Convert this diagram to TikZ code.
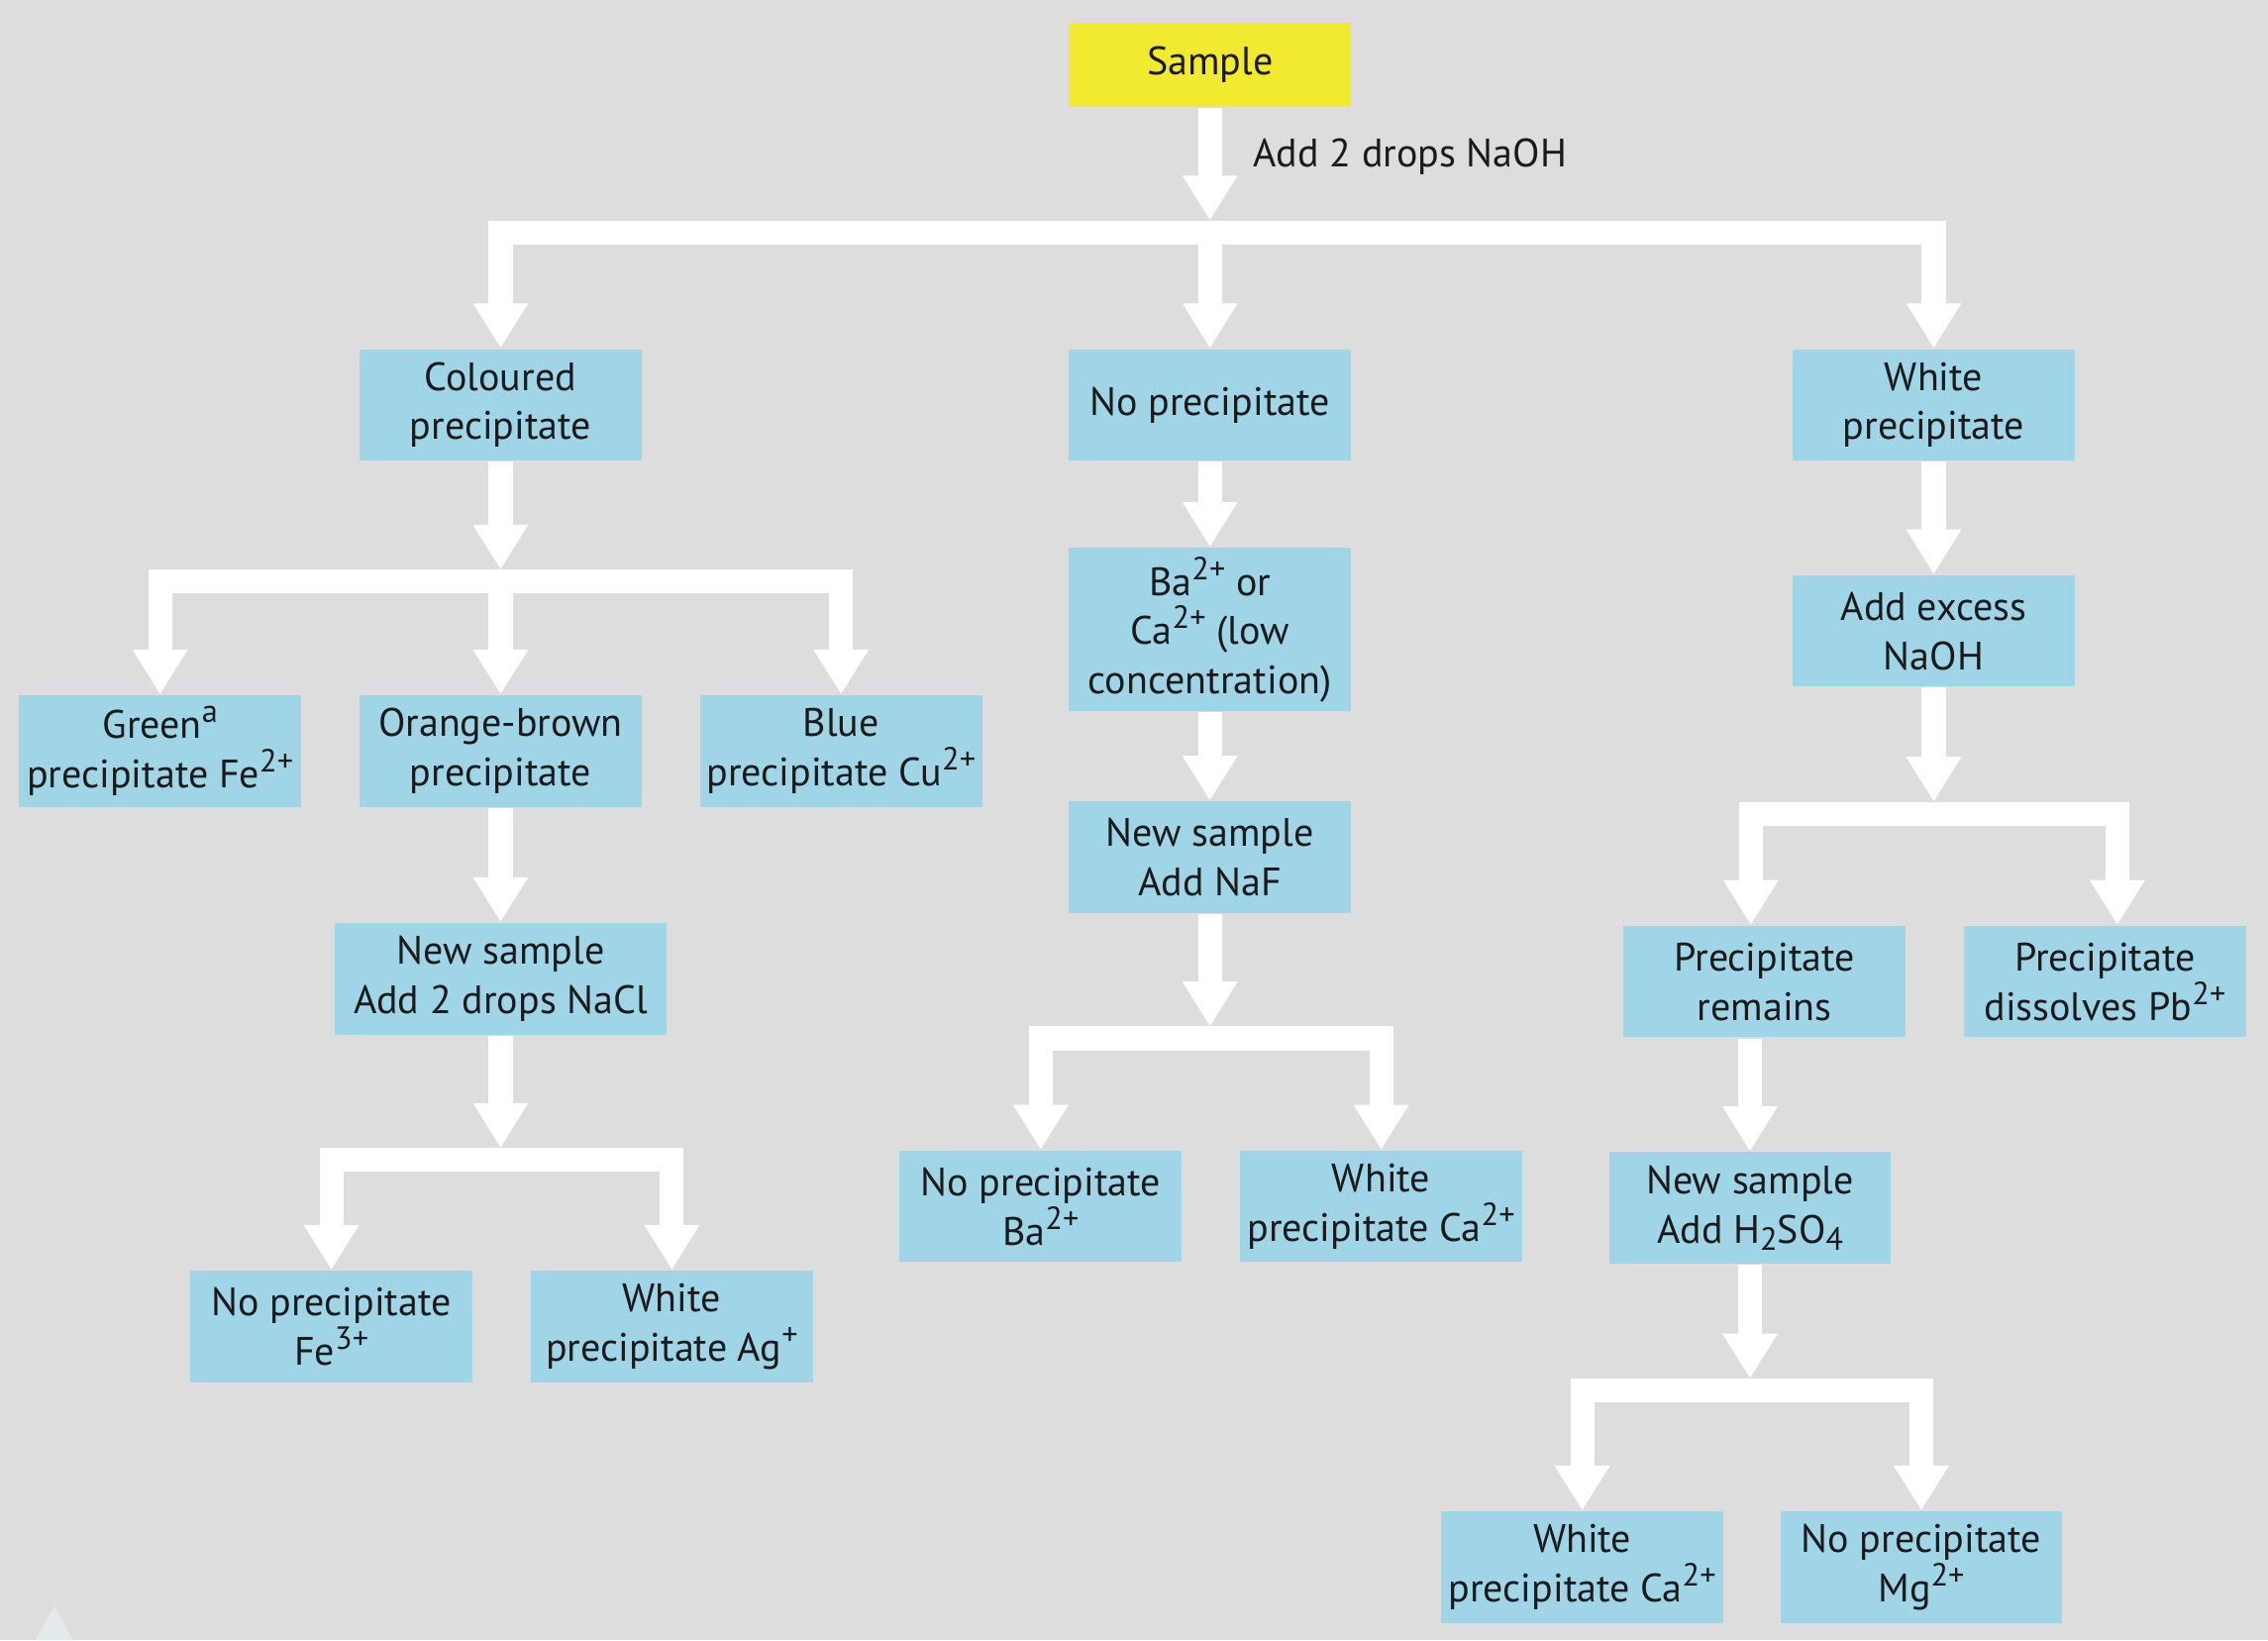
\documentclass[tikz,border=0pt]{standalone}
\usepackage{fontspec}
\setmainfont{PT Sans}
\usetikzlibrary{arrows.meta, positioning}
\definecolor{bggrey}{RGB}{221,221,221}
\definecolor{boxblue}{RGB}{160,213,232}
\definecolor{sampleyellow}{RGB}{242,234,47}
\definecolor{inkblack}{RGB}{26,26,26}
\definecolor{cornertri}{RGB}{226,234,236}
\newcommand{\chg}[1]{\raisebox{0.8ex}{\fontsize{6.3}{6.3}\selectfont #1}}
\newcommand{\low}[1]{\raisebox{-0.35ex}{\fontsize{6.3}{6.3}\selectfont #1}}
\tikzset{
  txt/.style={font=\fontsize{7.8}{9.7}\selectfont, text=inkblack},
  box/.style={rectangle, fill=boxblue, minimum width=19.5mm,
              minimum height=7.7mm, align=center, inner sep=0pt, txt},
  widebox/.style={box, minimum width=22.9mm},
  tallbox/.style={box, minimum height=11.3mm},
  start/.style={box, fill=sampleyellow, minimum height=5.8mm},
}
\begin{document}
\begin{tikzpicture}[
  >={Triangle[width=3.6mm, length=3.1mm]},
  flow/.style={draw=white, line width=1.65mm, ->},
  fork/.style={draw=white, line width=1.65mm, <->},
  lbl/.style={txt},
]

  \path[use as bounding box, fill=bggrey] (0,0) rectangle (156.8mm,-113.4mm);
  \fill[cornertri] (2.46mm,-113.4mm) -- (3.77mm,-111.0mm) -- (5.07mm,-113.4mm) -- cycle;

  \node[start] (sample) at (83.65mm,-4.5mm) {Sample};

  \node[box, below=16.6mm of sample] (nop) {No precipitate};
  \node[box, left=29.4mm of nop] (col) {Coloured\\precipitate};
  \node[box, right=30.4mm of nop] (wht) {White\\precipitate};

  \node[box, below=16.1mm of col] (orb) {Orange-brown\\precipitate};
  \node[box, left=3.9mm of orb] (green) {Green\chg{a}\\precipitate Fe\chg{2+}};
  \node[box, right=3.9mm of orb] (blue) {Blue\\precipitate Cu\chg{2+}};
  \node[widebox, below=7.9mm of orb] (nacl) {New sample\\Add 2 drops NaCl};
  \node[box, below=16.2mm of nacl, xshift=-11.7mm] (fe3) {No precipitate\\Fe\chg{3+}};
  \node[box, right=3.9mm of fe3] (ag) {White\\precipitate Ag\chg{+}};

  \node[tallbox, below=5.9mm of nop] (baca) {Ba\chg{2+} or\\Ca\chg{2+} (low\\concentration)};
  \node[box, below=6.1mm of baca] (naf) {New sample\\Add NaF};
  \node[box, below=16.3mm of naf, xshift=-11.7mm] (ba) {No precipitate\\Ba\chg{2+}};
  \node[box, right=3.9mm of ba] (caone) {White\\precipitate Ca\chg{2+}};

  \node[box, below=7.8mm of wht] (exc) {Add excess\\NaOH};
  \node[box, below=16.4mm of exc, xshift=-11.7mm] (rem) {Precipitate\\remains};
  \node[box, right=3.9mm of rem] (pb) {Precipitate\\dissolves Pb\chg{2+}};
  \node[box, below=7.8mm of rem, xshift=-1.0mm] (acid) {New sample\\Add H\low{2}SO\low{4}};
  \node[box, below=17.0mm of acid, xshift=-11.6mm] (catwo) {White\\precipitate Ca\chg{2+}};
  \node[box, right=3.8mm of catwo] (mg) {No precipitate\\Mg\chg{2+}};

  \coordinate (j1) at ([yshift=-8.6mm]sample.south);
  \coordinate (j2) at ([yshift=-8.3mm]col.south);
  \coordinate (j3) at ([yshift=-8.6mm]nacl.south);
  \coordinate (j4) at ([yshift=-8.6mm]naf.south);
  \coordinate (j5) at ([yshift=-8.7mm]exc.south);
  \coordinate (j6) at ([yshift=-8.7mm]acid.south);

  \draw[flow] (sample.south) -- node[lbl, right, xshift=1.0mm, yshift=0.5mm] (naoh) {Add 2 drops NaOH} ([yshift=0.825mm]j1);
  \draw[fork] (col.north) |- (j1) -| (wht.north);
  \draw[flow] (j1) -- (nop.north);

  \draw[flow] (col.south) -- ([yshift=0.825mm]j2);
  \draw[fork] (green.north) |- (j2) -| (blue.north);
  \draw[flow] (j2) -- (orb.north);
  \draw[flow] (orb.south) -- (nacl.north);
  \draw[flow] (nacl.south) -- ([yshift=0.825mm]j3);
  \draw[fork] (fe3.north) |- (j3) -| (ag.north);

  \draw[flow] (nop.south) -- (baca.north);
  \draw[flow] (baca.south) -- (naf.north);
  \draw[flow] (naf.south) -- ([yshift=0.825mm]j4);
  \draw[fork] (ba.north) |- (j4) -| (caone.north);

  \draw[flow] (wht.south) -- (exc.north);
  \draw[flow] (exc.south) -- ([yshift=0.825mm]j5);
  \draw[fork] ([xshift=-0.95mm]rem.north) |- (j5) -| ([xshift=0.85mm]pb.north);
  \draw[flow] (acid.north |- rem.south) -- (acid.north);
  \draw[flow] (acid.south) -- ([yshift=0.825mm]j6);
  \draw[fork] (catwo.north) |- (j6) -| (mg.north);

\end{tikzpicture}
\end{document}
